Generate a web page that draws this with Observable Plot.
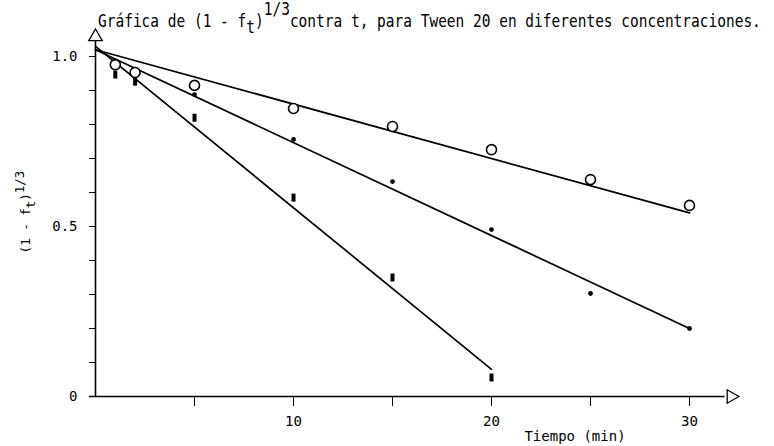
<!DOCTYPE html>
<html><head><meta charset="utf-8">
<script src="https://cdn.jsdelivr.net/npm/d3@7"></script>
<script src="https://cdn.jsdelivr.net/npm/@observablehq/plot@0.6"></script>
<style>
html,body{margin:0;padding:0;background:#fff;}
#chart{width:774px;height:446px;}
</style></head><body><div id="chart"></div>
<script>
// Open circles
const circT = [1, 2, 5, 10, 15, 20, 25, 30];
const circV = [0.976, 0.953, 0.915, 0.847, 0.794, 0.726, 0.638, 0.562];
// Small filled dots
const dotT = [5, 10, 15, 20, 25, 30];
const dotV = [0.888, 0.756, 0.632, 0.491, 0.303, 0.200];
// Filled squares
const sqT = [1, 2, 5, 10, 15, 20];
const sqV = [0.947, 0.926, 0.820, 0.585, 0.350, 0.056];
// Fitted straight lines (endpoints)
const lineCircT = [0, 30], lineCircV = [1.02, 0.54];
const lineDotT = [0, 30], lineDotV = [1.02, 0.20];
const lineSqT = [0, 20], lineSqV = [1.03, 0.08];
// Ticks
const xTicks = [5, 10, 15, 20, 25, 30];
const xTickLabels = ["", "10", "", "20", "", "30"];
const yTicks = [0, 0.1, 0.2, 0.3, 0.4, 0.5, 0.6, 0.7, 0.8, 0.9, 1.0];
const yTickLabels = ["0", "", "", "", "", "0.5", "", "", "", "", "1.0"];

const pts = (T, V) => T.map((t, i) => ({t, v: V[i]}));
const rectSymbol = {draw(ctx) { ctx.rect(-2, -4, 4, 8); }};
const font = "'DejaVu Sans Mono', monospace";

const plot = Plot.plot({
  width: 774, height: 446,
  marginLeft: 95, marginRight: 35.5, marginTop: 39, marginBottom: 50,
  style: {fontFamily: font, fontSize: "14px", color: "#000", background: "#fff"},
  x: {domain: [0, 32.5]},
  y: {domain: [0, 1.05]},
  marks: [
    Plot.axisY(yTicks, {tickSize: 6, tickPadding: 12, label: null,
      tickFormat: d => yTickLabels[yTicks.indexOf(d)], fontSize: 14}),
    Plot.axisX(xTicks, {tickSize: 10, tickPadding: 10, label: null,
      tickFormat: d => xTickLabels[xTicks.indexOf(d)], fontSize: 14}),
    Plot.ruleX([0], {y1: 0, y2: 1.045, stroke: "#000", strokeWidth: 1.6}),
    Plot.ruleY([0], {x1: -0.3, x2: 31.8, stroke: "#000", strokeWidth: 1.6}),
    Plot.dot([{t: 0, v: 1.058}], {x: "t", y: "v", symbol: "triangle", r: 5, fill: "#fff", stroke: "#000", strokeWidth: 1.3}),
    Plot.dot([{t: 32.1, v: 0}], {x: "t", y: "v", symbol: "triangle", r: 5, rotate: 90, fill: "#fff", stroke: "#000", strokeWidth: 1.3}),
    Plot.line(pts(lineCircT, lineCircV), {x: "t", y: "v", stroke: "#000", strokeWidth: 1.7}),
    Plot.line(pts(lineDotT, lineDotV), {x: "t", y: "v", stroke: "#000", strokeWidth: 1.7}),
    Plot.line(pts(lineSqT, lineSqV), {x: "t", y: "v", stroke: "#000", strokeWidth: 1.7}),
    Plot.dot(pts(circT, circV), {x: "t", y: "v", r: 5, fill: "#fff", stroke: "#000", strokeWidth: 1.6}),
    Plot.dot(pts(dotT, dotV), {x: "t", y: "v", r: 2.4, fill: "#000", stroke: "none"}),
    Plot.dot(pts(sqT, sqV), {x: "t", y: "v", symbol: rectSymbol, fill: "#000", stroke: "none"})
  ]
});
document.getElementById("chart").appendChild(plot);

const svg = d3.select(plot);
const title = svg.append("text").attr("transform", "translate(98,27) scale(1,1.2)")
  .attr("text-anchor", "start")
  .attr("font-family", font).attr("font-size", 14.5).attr("fill", "#000");
title.append("tspan").text("Gráfica de (1 - f");
title.append("tspan").attr("dy", 5).text("t");
title.append("tspan").attr("dy", -5).text(")");
title.append("tspan").attr("dy", -10).text("1/3");
title.append("tspan").attr("dy", 10).text("contra t, para Tween 20 en diferentes concentraciones.");

const ylab = svg.append("text").attr("transform", "translate(30,212) rotate(-90)")
  .attr("text-anchor", "middle").attr("font-family", font).attr("font-size", 12.5).attr("fill", "#000");
ylab.append("tspan").text("(1 - f");
ylab.append("tspan").attr("dy", 5).text("t");
ylab.append("tspan").attr("dy", -5).text(")");
ylab.append("tspan").attr("dy", -6).text("1/3");

svg.append("text").attr("x", 575).attr("y", 441).attr("text-anchor", "middle")
  .attr("font-family", font).attr("font-size", 14).attr("fill", "#000").text("Tiempo (min)");
</script>
</body></html>
